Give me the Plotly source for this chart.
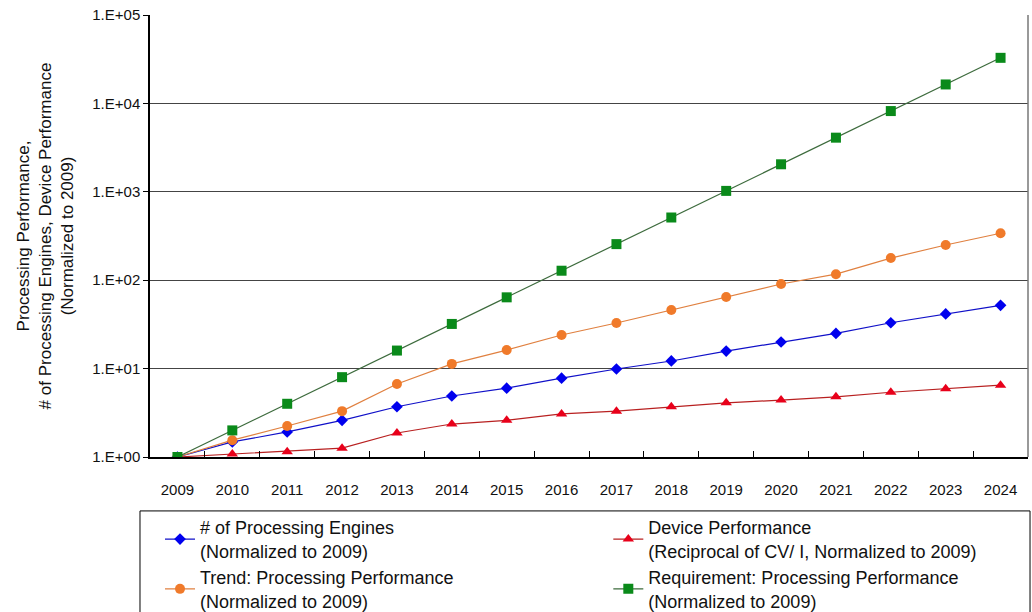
import plotly.graph_objects as go

years = [str(y) for y in range(2009, 2025)]
engines = [1, 1.48, 1.92, 2.6, 3.7, 4.9, 6.0, 7.8, 9.9, 12.2, 15.8, 20, 25, 33, 41.5, 52]
device = [1, 1.08, 1.15, 1.26, 1.87, 2.36, 2.6, 3.07, 3.3, 3.7, 4.1, 4.4, 4.8, 5.4, 5.9, 6.5]
trend = [1, 1.55, 2.24, 3.3, 6.7, 11.3, 16.2, 24, 32.8, 46, 64.6, 90.5, 117, 178, 250, 340]
requirement = [1, 2, 4, 8, 16, 32, 64, 128, 256, 512, 1024, 2048, 4096, 8192, 16384, 32768]
ytick_vals = [1, 10, 100, 1000, 10000, 100000]
ytick_text = ["1.E+00", "1.E+01", "1.E+02", "1.E+03", "1.E+04", "1.E+05"]

names = [
    "# of Processing Engines<br>(Normalized to 2009)",
    "Device Performance<br>(Reciprocal of CV/ I, Normalized to 2009)",
    "Trend: Processing Performance<br>(Normalized to 2009)",
    "Requirement: Processing Performance<br>(Normalized to 2009)",
]

FONT = "Liberation Sans, Arial, sans-serif"

fig = go.Figure()
fig.add_trace(go.Scatter(x=years, y=engines, name=names[0], mode="lines+markers",
                         legend="legend",
                         line=dict(color="#1010c8", width=1.2),
                         marker=dict(symbol="diamond", size=9, color="#0000ee")))
fig.add_trace(go.Scatter(x=years, y=device, name=names[1], mode="lines+markers",
                         legend="legend2",
                         line=dict(color="#b82020", width=1.2),
                         marker=dict(symbol="triangle-up", size=10, color="#e8001a")))
fig.add_trace(go.Scatter(x=years, y=trend, name=names[2], mode="lines+markers",
                         legend="legend",
                         line=dict(color="#e08040", width=1.2),
                         marker=dict(symbol="circle", size=10, color="#f07a2a")))
fig.add_trace(go.Scatter(x=years, y=requirement, name=names[3], mode="lines+markers",
                         legend="legend2",
                         line=dict(color="#3d6b3d", width=1.2),
                         marker=dict(symbol="square", size=10, color="#0a8a1a")))

leg_common = dict(orientation="v", yanchor="top", y=-0.118, xanchor="left",
                  bgcolor="rgba(0,0,0,0)", borderwidth=0, font=dict(size=18, color="#111"),
                  itemwidth=30, tracegroupgap=0)

fig.update_layout(
    width=1032, height=612,
    margin=dict(l=150, r=4, t=15, b=155, autoexpand=False),
    paper_bgcolor="white", plot_bgcolor="white",
    font=dict(family=FONT, size=15, color="#111"),
    xaxis=dict(type="category", range=[-0.5, 15.5], showline=True, linecolor="black",
               linewidth=1.5, ticks="inside", tickson="boundaries", ticklen=6,
               tickcolor="black", showgrid=False, tickfont=dict(size=15),
               ticklabelstandoff=18, automargin=False),
    yaxis=dict(type="log", range=[0, 5], tickvals=ytick_vals, ticktext=ytick_text,
               showline=True, linecolor="black", linewidth=1.5, ticks="outside",
               ticklen=5, tickcolor="black", showgrid=True, gridcolor="#444",
               gridwidth=1, zeroline=False, tickfont=dict(size=15), automargin=False,
               title=dict(text="Processing Performance,<br># of Processing Engines, Device Performance<br>(Normalized to 2009)",
                          font=dict(size=17), standoff=14)),
    legend=dict(x=0.0114, **leg_common),
    legend2=dict(x=0.522, **leg_common),
    showlegend=True,
)
fig.add_shape(type="line", xref="paper", yref="paper", x0=1, x1=1, y0=0, y1=1,
              line=dict(color="#777", width=1.5))
fig.add_shape(type="rect", xref="paper", yref="paper", x0=-0.0114, x1=1.0023,
              y0=-0.5, y1=-0.122, line=dict(color="black", width=1))

fig.write_html("out.html")
